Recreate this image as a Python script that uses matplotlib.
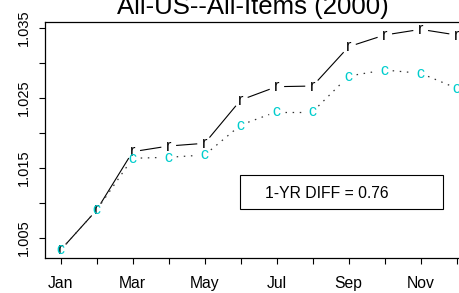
import numpy as np
import matplotlib
matplotlib.use("Agg")
import matplotlib.pyplot as plt
from matplotlib.patches import Rectangle

plt.rcParams['font.family'] = ['Liberation Sans', 'DejaVu Sans']

# -----------------------
# DATA
# -----------------------
months = np.arange(1, 13)
month_labels = ["Jan", "", "Mar", "", "May", "", "Jul", "", "Sep", "", "Nov", ""]
r_vals = [1.00329, 1.0090, 1.01733, 1.01814, 1.01853, 1.02471,
          1.02662, 1.02671, 1.03233, 1.0340, 1.03481, 1.0340]
c_vals = [1.00329, 1.0090, 1.01639, 1.01653, 1.01686, 1.02114,
          1.02304, 1.02304, 1.02814, 1.0290, 1.02853, 1.02639]
title = "All-US--All-Items (2000)"
diff_text = "1-YR DIFF = 0.76"

CYAN = "#00CDCD"

fig = plt.figure(figsize=(4.6, 2.93), dpi=100)
ax = fig.add_axes([45 / 460, 35 / 293, 416 / 460, 236 / 293])
ax.set_xlim(0.564, 12.12)
ax.set_ylim(1.00214, 1.03586)

ax.spines['right'].set_visible(False)
for s in ['left', 'top', 'bottom']:
    ax.spines[s].set_linewidth(0.9)


def gapped(x, y, gap=8.0):
    # R type="b": segments stop short of each point
    pts = ax.transData.transform(np.column_stack([x, y]))
    inv = ax.transData.inverted()
    segs = []
    for p0, p1 in zip(pts[:-1], pts[1:]):
        d = p1 - p0
        L = np.hypot(*d)
        if L <= 2 * gap:
            continue
        u = d / L
        a = inv.transform(p0 + u * gap)
        b = inv.transform(p1 - u * gap)
        segs.append((a, b))
    return segs


for a, b in gapped(months, r_vals):
    ax.plot([a[0], b[0]], [a[1], b[1]], color="black", lw=0.8)
for a, b in gapped(months, c_vals):
    ax.plot([a[0], b[0]], [a[1], b[1]], color="#333333", lw=0.9,
            linestyle=(0, (1.2, 4.5)))

for m, v in zip(months, r_vals):
    ax.text(m, v, "r", ha="center", va="center", fontsize=11.5, color="black")
for m, v in zip(months, c_vals):
    ax.text(m, v, "c", ha="center", va="center", fontsize=11.5, color=CYAN)

# axes ticks
ax.set_xticks(months)
ax.set_xticklabels(month_labels, fontsize=11.3)
ax.set_yticks([1.005, 1.010, 1.015, 1.020, 1.025, 1.030, 1.035])
ax.set_yticklabels(["1.005", "", "1.015", "", "1.025", "", "1.035"],
                   fontsize=10.5, rotation=90, va="center")
ax.tick_params(axis="x", length=4, width=0.8, pad=9)
ax.tick_params(axis="y", length=4, width=0.8, pad=6)

fig.text(253 / 460, 1 - 14 / 293, title, ha="center", va="baseline", fontsize=18.5)

# legend-like box
ax.add_patch(Rectangle((0.469, 0.2064), 0.4888, 0.1453, transform=ax.transAxes,
                       fill=False, edgecolor="black", lw=0.8))
ax.text(0.529, 0.275, diff_text, transform=ax.transAxes, ha="left", va="center",
        fontsize=11.3)

fig.savefig("out.png", dpi=100)
